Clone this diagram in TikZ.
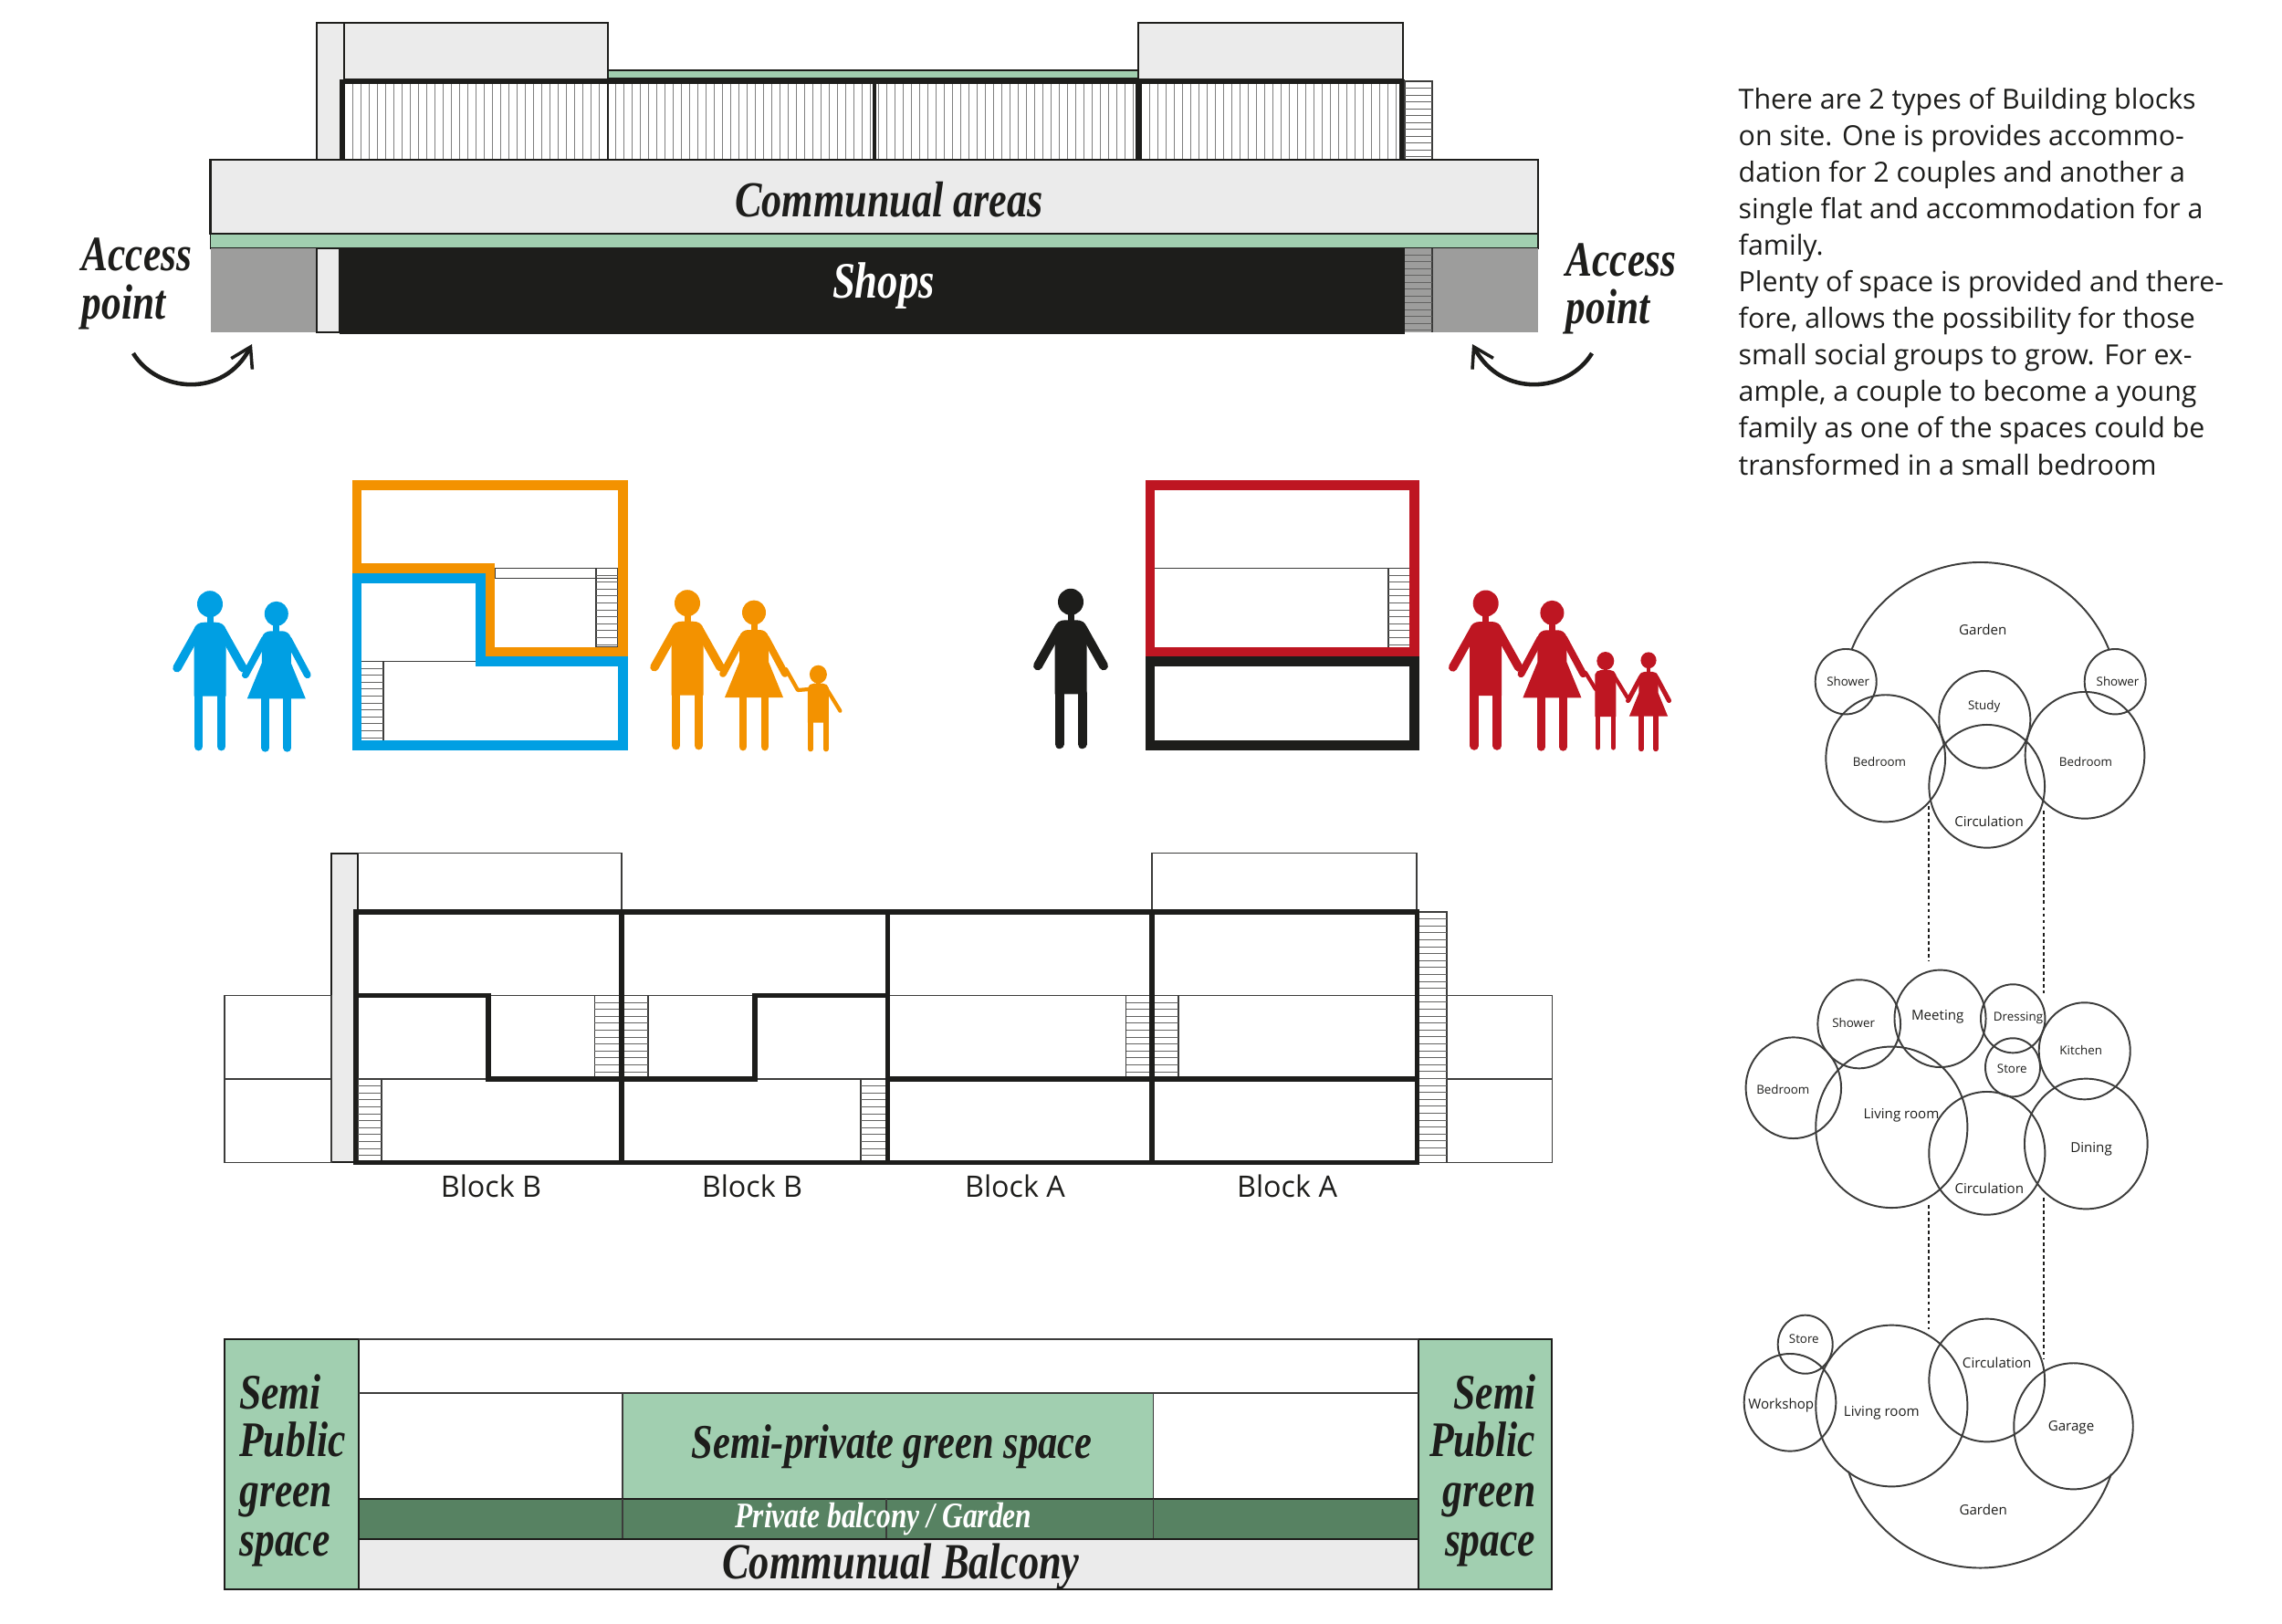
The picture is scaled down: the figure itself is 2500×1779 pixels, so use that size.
\documentclass[tikz,border=0pt]{standalone}
\usepackage{fontspec}
\setmainfont{Open Sans}
\newfontfamily\brushfont{Liberation Serif}[FakeStretch=0.8]
\usetikzlibrary{arrows.meta, shapes.geometric}
\definecolor{cblack}{HTML}{1D1D1B}
\definecolor{cline}{HTML}{3C3C3B}
\definecolor{clight}{HTML}{EBEBEB}
\definecolor{cgrey}{HTML}{9D9D9C}
\definecolor{cgreen}{HTML}{A1CFB0}
\definecolor{cdark}{HTML}{578262}
\definecolor{cblue}{HTML}{009FE3}
\definecolor{corange}{HTML}{F39200}
\definecolor{cred}{HTML}{BE1622}
\tikzset{
  x=0.01cm, y=-0.01cm,
  thin line/.style={draw=cline, line width=0.3pt},
  wall/.style={draw=cblack, line width=1.45pt, line join=miter},
  frame/.style={line width=3.05pt, miter limit=10},
  tread/.style={draw=cline!80, line width=0.2pt},
  brush/.style={font=\brushfont\bfseries\itshape\fontsize{#1}{#1}\selectfont, inner sep=0pt, text=cblack, anchor=base},
  brush/.default=13,
  label/.style={font=\fontsize{#1}{#1}\selectfont, inner sep=0pt, text=cblack},
  label/.default=3.8,
  bubble/.style={draw=cline, ellipse, inner sep=0pt, outer sep=0pt, line width=0.55pt},
  link/.style={draw=cblack, line width=0.55pt, dash pattern=on 1.1pt off 0.9pt},
  swoop/.style={draw=cblack, line width=1.3pt, -{Straight Barb[length=2.1mm, width=2.6mm, line width=1pt]}},
  pics/man/.style n args={2}{code={
    \fill[#1] (0,0) ellipse[x radius=14, y radius=14.5];
    \fill[#1] (-3.5,10) rectangle (3.5,24);
    \fill[#1] (-17.5,101) -- (-17.5,29) .. controls (-17,22) and (-11,20) .. (-6,20) -- (6,20) .. controls (11,20) and (17,22) .. (17.5,29) -- (17.5,101) -- cycle;
    \draw[#1, line width=#2*2.7pt, line cap=round] (-12.5,100) -- (-12.5,156);
    \draw[#1, line width=#2*2.7pt, line cap=round] (12.5,100) -- (12.5,156);
    \draw[#1, line width=#2*2.7pt, line cap=round] (-13,29) -- (-36,70);
    \draw[#1, line width=#2*2.7pt, line cap=round] (13,29) -- (36,70);
  }},
  pics/woman/.style n args={2}{code={
    \fill[#1] (0,0) ellipse[x radius=13, y radius=13.5];
    \fill[#1] (-3.5,10) rectangle (3.5,24);
    \fill[#1] (-32,93) -- (-16,54) -- (-16,27) .. controls (-15,21) and (-10,19) .. (-6,19) -- (6,19) .. controls (10,19) and (15,21) .. (16,27) -- (16,54) -- (32,93) -- cycle;
    \draw[#1, line width=#2*2.5pt, line cap=round] (-12,90) -- (-12,147);
    \draw[#1, line width=#2*2.5pt, line cap=round] (12,90) -- (12,147);
    \draw[#1, line width=#2*2.2pt, line cap=round] (-13,28) -- (-34,67);
    \draw[#1, line width=#2*2.2pt, line cap=round] (13,28) -- (34,67);
  }},
  pics/kid/.style n args={3}{code={
    \fill[#1] (0,0) ellipse[x radius=9.5, y radius=10];
    \fill[#1] (-2.2,7) rectangle (2.2,14);
    \fill[#1] (-11.5,#2) -- (-11.5,15) .. controls (-11,12) and (-8,10) .. (-5,10) -- (5,10) .. controls (8,10) and (11,12) .. (11.5,15) -- (11.5,#2) -- cycle;
    \draw[#1, line width=1.5pt, line cap=round] (-8.5,#2-3) -- (-8.5,#3);
    \draw[#1, line width=1.5pt, line cap=round] (8.5,#2-3) -- (8.5,#3);
    \draw[#1, line width=1.2pt, line cap=round] (8,14) -- (24,40);
  }},
}
\begin{document}
\begin{tikzpicture}
  \useasboundingbox (0,0) rectangle (2500,1779);

  % top elevation
  \filldraw[fill=clight, wall, line width=0.6pt] (347,25) rectangle (377,175);
  \filldraw[fill=clight, wall, line width=0.6pt] (377,25) rectangle (666,87);
  \filldraw[fill=clight, wall, line width=0.6pt] (1247,25) rectangle (1537,87);
  \filldraw[fill=cgreen, wall, line width=0.5pt] (666,77) rectangle (1247,86);
  \foreach \x in {386,395,...,1534} \draw[draw=gray, line width=0.22pt] (\x,91) -- (\x,175);
  \draw[wall] (374.5,175) -- (374.5,89.5) -- (1536,89.5) -- (1536,175);
  \draw[wall, line width=0.8pt] (666,89.5) -- (666,175);
  \draw[wall, line width=1.3pt] (958,89.5) -- (958,175);
  \draw[wall, line width=2pt] (1247,89.5) -- (1247,175);
  \draw[thin line] (1539,89) rectangle (1569,175);
  \foreach \y in {96.5,104,...,174} \draw[tread] (1539,\y) -- (1569,\y);
  \filldraw[fill=clight, wall, line width=0.6pt] (230.5,175) rectangle (1685,256);
  \filldraw[fill=cgreen, wall, line width=0.5pt] (230.5,256) rectangle (1685,272);
  \fill[cgrey] (230.5,272) rectangle (347,364);
  \fill[cgrey] (1539,272) rectangle (1685,364);
  \filldraw[fill=clight, wall, line width=0.5pt] (347,272) rectangle (372,364);
  \draw[thin line] (1569,272) -- (1569,364);
  \foreach \y in {279,286.5,...,364} \draw[tread] (1539,\y) -- (1569,\y);
  \fill[cblack] (372,272) rectangle (1539,366);
  \node[brush=15.7] (areas) at (974,238) {Communual areas};
  \node[brush=15.9, text=white] (shops) at (968,326) {Shops};
  \node[brush=15.4, anchor=base west] (accessL) at (89,297) {Access};
  \node[brush=15.4, anchor=base west] (pointL) at (89,349) {point};
  \node[brush=15.4, anchor=base west] (accessR) at (1715,302) {Access};
  \node[brush=15.4, anchor=base west] (pointR) at (1715,354) {point};
  \coordinate (swoopLa) at (146,387);
  \coordinate (swoopLb) at (276,377);
  \coordinate (swoopRa) at (1744,387);
  \coordinate (swoopRb) at (1613,377);
  \draw[swoop] (swoopLa) .. controls (172,430) and (245,437) .. (swoopLb);
  \draw[swoop] (swoopRa) .. controls (1718,430) and (1645,437) .. (swoopRb);

  % flats with their residents
  \draw[thin line] (542,622.7) rectangle (677,633.7);
  \draw[thin line] (653,622.7) rectangle (677,709);
  \foreach \y in {630,637.6,...,708} \draw[tread] (653,\y) -- (677,\y);
  \draw[thin line] (396,724.3) -- (526,724.3);
  \draw[thin line] (420,724.3) -- (420,811);
  \foreach \y in {732,739.6,...,810} \draw[tread] (396,\y) -- (420,\y);
  \draw[frame, draw=corange] (391,531.5) -- (682.4,531.5) -- (682.4,714) -- (536.7,714) -- (536.7,622.7) -- (391,622.7) -- cycle;
  \draw[frame, draw=cblue] (391,633.3) -- (526.5,633.3) -- (526.5,724.7) -- (682.4,724.7) -- (682.4,816.3) -- (391,816.3) -- cycle;
  \pic at (230,661.7) {man={cblue}{1}};
  \pic at (302.8,672.3) {woman={cblue}{1}};
  \pic at (753,660.7) {man={corange}{1}};
  \pic at (826,671) {woman={corange}{1}};
  \pic at (896.4,738.7) {kid={corange}{53}{82}};
  \draw[corange, line width=1.2pt, line join=round, line cap=round] (886,755) -- (874,756) -- (861,733);
  \draw[thin line] (1265,622.7) -- (1544.5,622.7);
  \draw[thin line] (1521,622.7) -- (1521,709);
  \foreach \y in {630,637.6,...,708} \draw[tread] (1521,\y) -- (1544.5,\y);
  \draw[frame, draw=cred] (1260,531.5) rectangle (1549.5,714);
  \draw[frame, draw=cblack] (1260,724.7) rectangle (1549.5,816.3);
  \pic at (1173,659.3) {man={cblack}{1.05}};
  \pic at (1627.7,661) {man={cred}{1}};
  \pic at (1700.4,671.3) {woman={cred}{1}};
  \pic at (1758.8,724) {kid={cred}{61}{95}};
  \draw[cred, line width=1.2pt, line cap=round] (1748,755) -- (1737,737);
  \pic[scale=0.66] at (1806,723.3) {woman={cred}{0.66}};

  % plan of the four blocks
  \filldraw[fill=clight, wall, line width=0.6pt] (363,934.7) rectangle (392,1273.3);
  \draw[thin line] (392,934.7) -- (681,934.7) -- (681,999);
  \draw[thin line] (1262,999) -- (1262,934.7) -- (1552,934.7) -- (1552,999);
  \draw[thin line] (246,1090.3) rectangle (363,1273.3);
  \draw[thin line] (246,1182) -- (363,1182);
  \draw[thin line] (1585,1090.3) rectangle (1700.5,1273.3);
  \draw[thin line] (1585,1182) -- (1700.5,1182);
  \draw[thin line] (535,1090.3) -- (827,1090.3);
  \draw[thin line] (972.4,1090.3) -- (1552.6,1090.3);
  \draw[thin line] (389.7,1182) -- (535,1182);
  \draw[thin line] (827,1182) -- (972.4,1182);
  \foreach \xa/\xb/\ya/\yb/\k in {392/418/1182/1273/11, 651.4/710/1090.3/1182/11, 943/972/1182/1273/11, 1233.5/1291/1090.3/1182/11, 1552.6/1585/999/1273.3/35} {
    \draw[thin line] (\xa,\ya) rectangle (\xb,\yb);
    \foreach \i [evaluate=\i as \y using \ya+7.6*\i] in {1,...,\k} \draw[tread] (\xa,\y) -- (\xb,\y);
  }
  \draw[wall] (389.7,999) rectangle (1552.6,1273.3);
  \draw[wall] (681,999) -- (681,1273.3);
  \draw[wall] (972.4,999) -- (972.4,1273.3);
  \draw[wall] (1262,999) -- (1262,1273.3);
  \draw[wall] (389.7,1090.3) -- (535,1090.3) -- (535,1182) -- (827,1182) -- (827,1090.3) -- (972.4,1090.3);
  \draw[wall] (972.4,1182) -- (1552.6,1182);
  \foreach \x/\t in {538/Block B, 824/Block B, 1112/Block A, 1410/Block A}
    \node[label=9.2] (blk\x) at (\x,1299) {\t};

  % balconies and green spaces
  \filldraw[fill=cgreen, wall, line width=0.5pt] (246,1466.7) rectangle (392.8,1741);
  \filldraw[fill=cgreen, wall, line width=0.5pt] (1553.6,1466.7) rectangle (1700,1741);
  \draw[thin line, line width=0.6pt] (392.8,1466.7) -- (1553.6,1466.7);
  \draw[thin line, line width=0.6pt] (392.8,1526) -- (1553.6,1526);
  \filldraw[fill=cgreen, thin line] (682,1526) rectangle (1263.6,1641.7);
  \filldraw[fill=cdark, wall, line width=0.5pt] (392.8,1641.7) rectangle (1553.6,1686.3);
  \foreach \x in {682,971,1263.6} \draw[thin line] (\x,1641.7) -- (\x,1686.3);
  \filldraw[fill=clight, wall, line width=0.5pt] (392.8,1686.3) rectangle (1553.6,1741);
  \foreach \n/\t/\y in {semi/Semi/1543, pub/Public/1595, grn/green/1650, spc/space/1704} {
    \node[brush=15.5, anchor=base west] (\n L) at (261.6,\y) {\t};
    \node[brush=15.5, anchor=base east] (\n R) at (1683,\y) {\t};
  }
  \node[brush=15.1] (semipriv) at (977,1597) {Semi-private green space};
  \node[brush=11.2, text=white] (private) at (968,1673) {Private balcony / Garden};
  \node[brush=15.8] (balcony) at (987,1729) {Communual Balcony};

  % description
  \node[anchor=base west, align=left, inner sep=0pt, font=\fontsize{8.63}{11.38}\selectfont, text=cblack] (intro) at (1904,520) {There are 2 types of Building blocks\\on site. One is provides accommo-\\dation for 2 couples and another a\\single flat and accommodation for a\\family.\\Plenty of space is provided and there-\\fore, allows the possibility for those\\small social groups to grow. For ex-\\ample, a couple to become a young\\family as one of the spaces could be\\transformed in a small bedroom};

  % bubble diagrams, one for each floor
  \foreach \n/\cx/\cy/\rx/\ry in {
    showerA/2022.2/746.7/33.5/35.7, showerB/2317.2/746.7/33.5/35.7,
    bedA/2065.7/830.8/65.3/69.5, bedB/2284/827.3/65.3/69.3,
    study/2174.3/788.2/50/53.2, circA/2176.7/861.3/63.3/67.3,
    showerM/2036.7/1121.8/45.3/48.5, meeting/2125.5/1115.8/50/53.2,
    dressing/2205.2/1115.8/35.2/37.5, storeM/2205/1169.3/30/32,
    kitchen/2283.7/1151.3/50/53, bedM/1964.8/1191.7/52.2/55.3,
    livingM/2072.3/1234.8/83/88.2, circM/2176.8/1263.3/63.5/67.3,
    dining/2285.3/1253/67.3/71.3,
    storeG/1977.7/1472.7/30/32, workshop/1961/1536.3/50.3/53.3,
    livingG/2072.3/1540/83/88.3, circG/2176.7/1512/63.3/67.3,
    garage/2271.5/1562.3/65.2/69}
    \node[bubble, minimum width=\rx*0.02cm, minimum height=\ry*0.02cm] (\n) at (\cx,\cy) {};
  \draw[cline, line width=0.55pt] (2028.5,711.7) arc[start angle=201.66, end angle=338.34, x radius=151.7, y radius=151.7];
  \draw[cline, line width=0.55pt] (2025,1611.7) arc[start angle=162.44, end angle=18.73, x radius=151.5, y radius=151.5];
  \foreach \n/\x/\y/\t in {
    b/2024.7/746/Shower, c/2320/746/Shower, d/2173.7/773.7/Study,
    e/2059/834.3/Bedroom, f/2285/834.3/Bedroom,
    g/2030.7/1120/Shower, h/2211/1115/Dressing, i/2204.3/1170.3/Store, j/2279.7/1150.7/Kitchen,
    k/1953.3/1193.3/Bedroom, l/1976.3/1467/Store}
    \node[label] (txt\n) at (\x,\y) {\t};
  \foreach \n/\x/\y/\t in {
    a/2172.3/689.7/Garden, m/2172.7/1654.3/Garden,
    n/2179/900/Circulation, o/2122.7/1114/Meeting, p/2083/1222/Living room, q/2179.3/1302.3/Circulation,
    r/2291/1258.3/Dining, s/1951.3/1539.3/Workshop, t/2061.3/1547.7/Living room,
    u/2187.7/1492.7/Circulation, v/2269/1564.3/Garage}
    \node[label=4.3] (txt\n) at (\x,\y) {\t};
  \foreach \n/\x/\y in {la/2113/883, lb/2113/1053, lc/2113/1320, ld/2113/1456,
                        ra/2239.3/888, rb/2239.3/1087.7, rc/2239.3/1311.7, rd/2239.3/1489}
    \coordinate (\n) at (\x,\y);
  \draw[link] (la) -- (lb);
  \draw[link] (lc) -- (ld);
  \draw[link] (ra) -- (rb);
  \draw[link] (rc) -- (rd);
\end{tikzpicture}
\end{document}
